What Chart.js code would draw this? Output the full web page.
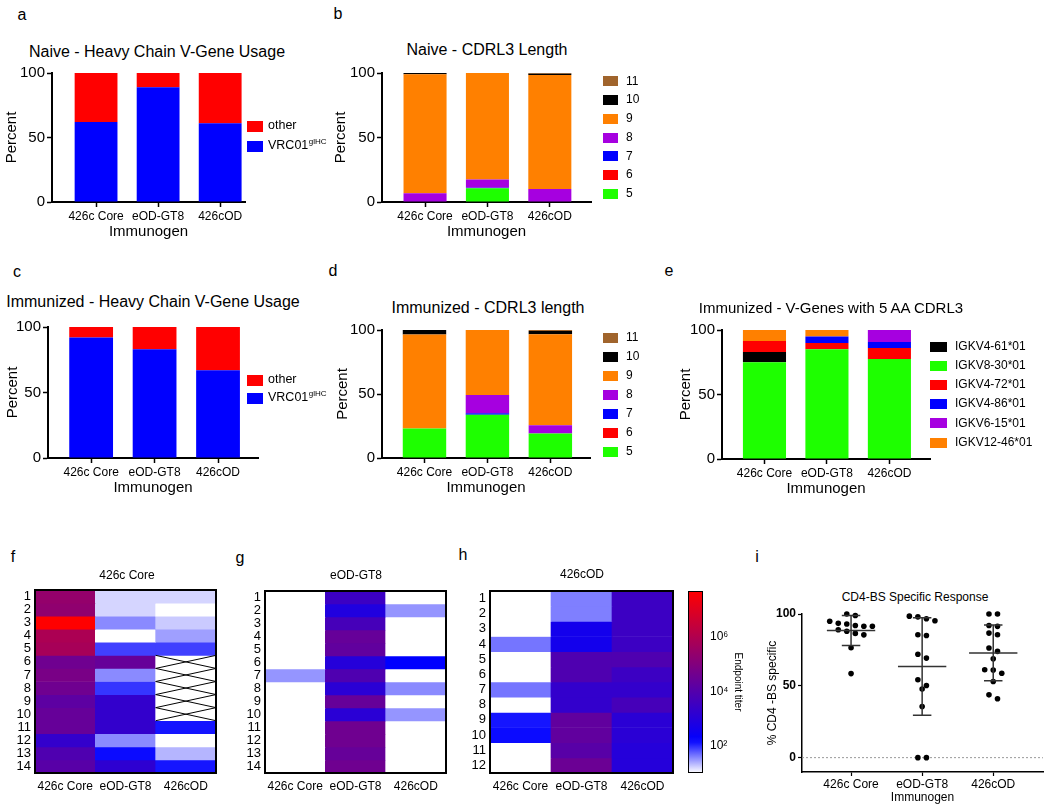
<!DOCTYPE html>
<html>
<head>
<meta charset="utf-8">
<script src="https://cdn.jsdelivr.net/npm/chart.js@4.4.1/dist/chart.umd.min.js"></script>
<style>
  body { margin: 0; background: #fff; font-family: "Liberation Sans", Arial, sans-serif; }
  #fig { position: relative; width: 1050px; height: 808px; overflow: hidden; background: #fff; }
  .lbl { position: absolute; transform: translate(-50%, -50%); white-space: nowrap; line-height: 1; color: #000; }
</style>
</head>
<body>
<div id="fig"></div>
<script>
// Immunogens (x categories everywhere)
const immunogens = ['426c Core', 'eOD-GT8', '426cOD'];
const percentTicks = [0, 50, 100];

// a - Naive heavy chain V-gene usage (%)
const naiveVrc01 = [62, 89, 61];
const naiveOther = [38, 11, 39];

// c - Immunized heavy chain V-gene usage (%)
const immVrc01 = [92, 83, 67];
const immOther = [8, 17, 33];

// b - Naive CDRL3 length (%), one array per length
const cdrl3Lengths = ['5', '6', '7', '8', '9', '10', '11'];
const naiveLen5 = [0, 10.6, 0];
const naiveLen6 = [0, 0, 0];
const naiveLen7 = [0, 0.5, 0];
const naiveLen8 = [6.7, 6.4, 10];
const naiveLen9 = [92.3, 82.5, 88.5];
const naiveLen10 = [1, 0, 1];
const naiveLen11 = [0, 0, 0.5];

// d - Immunized CDRL3 length (%)
const immLen5 = [23, 33.7, 19.2];
const immLen6 = [0, 0, 0];
const immLen7 = [0, 1.3, 0];
const immLen8 = [0, 14.2, 6.3];
const immLen9 = [73.5, 50.8, 71.2];
const immLen10 = [3.5, 0, 2.5];
const immLen11 = [0, 0, 0.8];

// e - V-genes with 5 AA CDRL3 (%), stacked bottom to top
const igkv8_30 = [75, 85, 77.5];
const igkv4_61 = [8, 0, 0];
const igkv4_72 = [8.5, 5, 8.5];
const igkv4_86 = [0, 5, 4.7];
const igkv6_15 = [0, 0, 9.3];
const igkv12_46 = [8.5, 5, 0];

// f/g/h - log10 endpoint titers per column (antigen); 1 = below detection, null = not tested
const coreGroupVsCore = [5.4, 5.3, 7.7, 5.9, 5.8, 4.6, 4.8, 4.6, 4.2, 4.4, 4.4, 3.3, 3.9, 4.1];
const coreGroupVsGt8 = [1.2, 1.2, 1.55, 1.0, 1.9, 4.4, 1.55, 1.95, 3.3, 3.3, 3.3, 1.55, 2.15, 3.2];
const coreGroupVsOd = [1.2, 1.0, 1.25, 1.45, 1.9, null, null, null, null, null, 2.1, 1.0, 1.35, 2.1];
const gt8GroupVsCore = [1, 1, 1, 1, 1, 1, 1.5, 1, 1, 1, 1, 1, 1, 1];
const gt8GroupVsGt8 = [3.5, 2.9, 3.7, 4.4, 4.3, 3.0, 3.9, 3.1, 4.4, 3.1, 4.6, 4.6, 4.4, 4.6];
const gt8GroupVsOd = [1, 1.5, 1, 1, 1, 2.2, 1, 1.55, 1, 1.5, 1, 1, 1, 1];
const odGroupVsCore = [1, 1, 1, 1.65, 1, 1, 1.65, 1, 2.1, 2.15, 1, 1];
const odGroupVsGt8 = [1.6, 1.6, 2.6, 2.6, 3.9, 3.9, 3.3, 3.3, 4.3, 4.3, 4.1, 4.5];
const odGroupVsOd = [3.5, 3.5, 3.5, 3.5, 3.9, 3.5, 3.3, 3.7, 3.1, 3.1, 3.0, 3.0];
const titerTickExp = [2, 4, 6];

// i - % CD4-BS specific
const spec426cCore = [100, 99, 91.5, 93, 92, 95, 91.5, 89, 88, 85.5, 86.5, 76.5, 58.5, 93.5];
const specEodGt8 = [98.5, 98, 96.7, 95.3, 85.6, 85, 72, 69.3, 54.2, 50.2, 47.7, 35.6, 0, 0];
const spec426cOD = [100, 100, 91.4, 92, 85.6, 86.7, 76.3, 74, 68.8, 61, 61.2, 58.8, 53, 41, 43.7];

const FONT = '"Liberation Sans", Arial, sans-serif';
Chart.defaults.font.family = FONT;
Chart.defaults.color = '#000';

const COL = {
  red: '#ff0000', blue: '#0000ff', green: '#1eff00', purple: '#a600e0',
  orange: '#ff8000', black: '#000000', brown: '#a0642c'
};

const fig = document.getElementById('fig');

function makeCanvas(left, top, w, h) {
  const c = document.createElement('canvas');
  c.width = w;
  c.height = h;
  c.style.cssText = `position:absolute;left:${left}px;top:${top}px;width:${w}px;height:${h}px`;
  fig.appendChild(c);
  return c;
}

function addText(text, x, y, size) {
  const d = document.createElement('div');
  d.className = 'lbl';
  d.style.left = x + 'px';
  d.style.top = y + 'px';
  d.style.fontSize = size + 'px';
  d.textContent = text;
  fig.appendChild(d);
}

// legend drawn beside the plot area, items taken from the datasets
function sideLegend(cfg) {
  return {
    id: 'sideLegend',
    afterDraw(chart) {
      const {ctx, chartArea} = chart;
      const ds = chart.data.datasets;
      const n = cfg.order.length;
      const mid = (chartArea.top + chartArea.bottom) / 2 + cfg.dy;
      const x = chartArea.right + cfg.dx;
      ctx.save();
      ctx.textBaseline = 'middle';
      ctx.textAlign = 'left';
      cfg.order.forEach((di, k) => {
        const d = ds[di];
        const y = mid + (k - (n - 1) / 2) * cfg.gap;
        ctx.fillStyle = d.backgroundColor;
        ctx.fillRect(x, Math.round(y - cfg.boxH / 2), cfg.boxW, cfg.boxH);
        ctx.fillStyle = '#000';
        ctx.font = `${cfg.size}px ${FONT}`;
        const tx = x + cfg.boxW + cfg.textGap;
        ctx.fillText(d.label, tx, y);
        if (d.sup) {
          const w = ctx.measureText(d.label).width;
          ctx.font = `${Math.round(cfg.size * 0.66)}px ${FONT}`;
          ctx.fillText(d.sup, tx + w + 0.5, y - cfg.size * 0.3);
        }
      });
      ctx.restore();
    }
  };
}

function stackedPanel(p) {
  const cv = makeCanvas(p.left, p.top, p.width, p.height);
  return new Chart(cv, {
    type: 'bar',
    data: {
      datasets: p.series.map(s => ({
        label: s.label,
        sup: s.sup,
        data: s.values.map((v, i) => ({x: i, y: v})),
        backgroundColor: s.color,
        borderWidth: 0,
        barPercentage: 0.69,
        categoryPercentage: 1
      }))
    },
    options: {
      responsive: false,
      animation: false,
      layout: {padding: {top: 12, right: p.padRight, left: 0, bottom: 0}},
      plugins: {legend: {display: false}, tooltip: {enabled: false}},
      scales: {
        x: {
          type: 'linear', stacked: true, offset: false, min: p.xMin, max: p.xMax,
          afterBuildTicks: sc => { sc.ticks = immunogens.map((_, i) => ({value: i})); },
          afterFit: sc => { sc.height = 40; },
          ticks: {callback: v => immunogens[v], font: {size: 12}, padding: 2, maxRotation: 0, autoSkip: false},
          grid: {drawOnChartArea: false, offset: false, tickLength: 5, tickColor: '#000', tickWidth: 1.5},
          border: {color: '#000', width: 2},
          title: {display: true, text: 'Immunogen', font: {size: 15}, padding: {top: 0, bottom: 1}}
        },
        y: {
          stacked: true, min: 0, max: 100,
          afterBuildTicks: sc => { sc.ticks = percentTicks.map(v => ({value: v})); },
          afterFit: sc => { sc.width = p.yWidth; },
          ticks: {font: {size: 15}, padding: 2},
          grid: {drawOnChartArea: false, tickLength: 5, tickColor: '#000', tickWidth: 1.5},
          border: {color: '#000', width: 2},
          title: {display: true, text: 'Percent', font: {size: 15}, padding: {top: p.yTitlePad, bottom: 0}}
        }
      }
    },
    plugins: [sideLegend(p.legend)]
  });
}

function titerColor(t) {
  if (t === null || t <= 1) return 'rgb(255,255,255)';
  if (t < 2.2) {
    const c = Math.round(255 * (1 - (t - 1) / 1.2));
    return `rgb(${c},${c},255)`;
  }
  const f = Math.min(1, (t - 2.2) / 5.5);
  return `rgb(${Math.round(255 * f)},0,${Math.round(255 * (1 - f))})`;
}

// frame around the heatmap and crosses on untested cells
function heatFrame(cols) {
  return {
    id: 'heatFrame',
    afterDatasetsDraw(chart) {
      const {ctx, chartArea: a, scales: {x, y}} = chart;
      const half = (a.right - a.left) / cols.length / 2;
      ctx.save();
      ctx.strokeStyle = '#000';
      ctx.lineWidth = 1;
      cols.forEach((col, c) => {
        col.forEach((v, r) => {
          if (v !== null) return;
          const cx = x.getPixelForValue(c);
          const y0 = y.getPixelForValue(r), y1 = y.getPixelForValue(r + 1);
          ctx.beginPath();
          ctx.moveTo(cx - half, y0); ctx.lineTo(cx + half, y1);
          ctx.moveTo(cx - half, y1); ctx.lineTo(cx + half, y0);
          ctx.stroke();
        });
      });
      ctx.lineWidth = 2;
      ctx.strokeRect(a.left, a.top, a.right - a.left, a.bottom - a.top);
      ctx.restore();
    }
  };
}

function heatPanel(p) {
  const cv = makeCanvas(p.left, p.top, p.width, p.height);
  const rowLabels = p.cols[0].map((_, r) => String(r + 1));
  return new Chart(cv, {
    type: 'bar',
    data: {
      labels: immunogens,
      datasets: rowLabels.map((_, r) => ({
        data: p.cols.map(() => 1),
        backgroundColor: p.cols.map(col => titerColor(col[r])),
        borderWidth: 0,
        barPercentage: 1,
        categoryPercentage: 1
      }))
    },
    options: {
      responsive: false,
      animation: false,
      layout: {padding: {top: 12, right: 4, left: 0, bottom: 0}},
      plugins: {legend: {display: false}, tooltip: {enabled: false}},
      scales: {
        x: {
          stacked: true,
          afterFit: sc => { sc.height = 22; },
          ticks: {font: {size: 12}, padding: 6, maxRotation: 0, autoSkip: false},
          grid: {display: false, drawTicks: false},
          border: {display: false}
        },
        y: {
          stacked: true, reverse: true, min: 0, max: rowLabels.length,
          afterBuildTicks: sc => { sc.ticks = rowLabels.map((_, r) => ({value: r + 0.5})); },
          afterFit: sc => { sc.width = p.yWidth; },
          ticks: {callback: (v, i) => rowLabels[i], font: {size: 13}, padding: 4, autoSkip: false},
          grid: {display: false, drawTicks: false},
          border: {display: false}
        }
      }
    },
    plugins: [heatFrame(p.cols)]
  });
}

// ---- a ----
stackedPanel({
  left: 0, top: 61, width: 330, height: 181, padRight: 85, yWidth: 52, yTitlePad: 3,
  xMin: -0.71, xMax: 2.4,
  series: [
    {label: 'VRC01', sup: 'glHC', values: naiveVrc01, color: COL.blue},
    {label: 'other', values: naiveOther, color: COL.red}
  ],
  legend: {order: [1, 0], dx: 2, dy: -1.5, gap: 20, boxW: 16, boxH: 11, textGap: 5, size: 12.5}
});

// ---- b ----
const lengthColors = [COL.green, COL.red, COL.blue, COL.purple, COL.orange, COL.black, COL.brown];
const naiveLens = [naiveLen5, naiveLen6, naiveLen7, naiveLen8, naiveLen9, naiveLen10, naiveLen11];
const immLens = [immLen5, immLen6, immLen7, immLen8, immLen9, immLen10, immLen11];
stackedPanel({
  left: 330, top: 61, width: 320, height: 181, padRight: 59, yWidth: 52, yTitlePad: 2,
  xMin: -0.69, xMax: 2.66,
  series: cdrl3Lengths.map((l, i) => ({label: l, values: naiveLens[i], color: lengthColors[i]})),
  legend: {order: [6, 5, 4, 3, 2, 1, 0], dx: 12, dy: 0, gap: 18.7, boxW: 15, boxH: 10, textGap: 8, size: 12}
});

// ---- c ----
stackedPanel({
  left: 0, top: 315, width: 335, height: 183, padRight: 77, yWidth: 48, yTitlePad: 4,
  xMin: -0.68, xMax: 2.63,
  series: [
    {label: 'VRC01', sup: 'glHC', values: immVrc01, color: COL.blue},
    {label: 'other', values: immOther, color: COL.red}
  ],
  legend: {order: [1, 0], dx: -11, dy: -3.5, gap: 18, boxW: 16, boxH: 11, textGap: 5, size: 12.5}
});

// ---- d ----
stackedPanel({
  left: 330, top: 318, width: 320, height: 180, padRight: 60, yWidth: 52, yTitlePad: 4,
  xMin: -0.675, xMax: 2.63,
  series: cdrl3Lengths.map((l, i) => ({label: l, values: immLens[i], color: lengthColors[i]})),
  legend: {order: [6, 5, 4, 3, 2, 1, 0], dx: 13, dy: 1, gap: 19, boxW: 15, boxH: 10, textGap: 8, size: 12}
});

// ---- e ----
stackedPanel({
  left: 675, top: 318, width: 370, height: 181, padRight: 115, yWidth: 47, yTitlePad: 2,
  xMin: -0.68, xMax: 2.65,
  series: [
    {label: 'IGKV8-30*01', values: igkv8_30, color: COL.green},
    {label: 'IGKV4-61*01', values: igkv4_61, color: COL.black},
    {label: 'IGKV4-72*01', values: igkv4_72, color: COL.red},
    {label: 'IGKV4-86*01', values: igkv4_86, color: COL.blue},
    {label: 'IGKV6-15*01', values: igkv6_15, color: COL.purple},
    {label: 'IGKV12-46*01', values: igkv12_46, color: COL.orange}
  ],
  legend: {order: [1, 0, 2, 3, 4, 5], dx: 0, dy: 0, gap: 19.2, boxW: 17, boxH: 10, textGap: 8, size: 12}
});

// ---- f, g, h heatmaps ----
heatPanel({left: 5, top: 578, width: 215, height: 217, yWidth: 30,
  cols: [coreGroupVsCore, coreGroupVsGt8, coreGroupVsOd]});
heatPanel({left: 230, top: 579, width: 220, height: 216, yWidth: 35,
  cols: [gt8GroupVsCore, gt8GroupVsGt8, gt8GroupVsOd]});
heatPanel({left: 455, top: 579, width: 222, height: 216, yWidth: 35,
  cols: [odGroupVsCore, odGroupVsGt8, odGroupVsOd]});

// ---- colour bar ----
const supDigits = {2: '\u00b2', 4: '\u2074', 6: '\u2076'};
const titerMin = 1, titerMax = 7.7;
new Chart(makeCanvas(688, 575, 60, 214), {
  type: 'bar',
  data: {
    labels: [''],
    datasets: [{
      data: [[10 ** titerMin, 10 ** titerMax]],
      backgroundColor: c => {
        const chart = c.chart;
        if (!chart.chartArea) return '#fff';
        const ys = chart.scales.y;
        const g = chart.ctx.createLinearGradient(0, ys.getPixelForValue(10 ** titerMin), 0, ys.getPixelForValue(10 ** titerMax));
        for (let k = 0; k <= 30; k++) {
          g.addColorStop(k / 30, titerColor(titerMin + (titerMax - titerMin) * k / 30));
        }
        return g;
      },
      borderWidth: 0, barPercentage: 1, categoryPercentage: 1
    }]
  },
  options: {
    responsive: false,
    animation: false,
    layout: {padding: {top: 16, bottom: 16, left: 0, right: 0}},
    plugins: {legend: {display: false}, tooltip: {enabled: false}},
    scales: {
      x: {display: false},
      y: {
        type: 'logarithmic', position: 'right', min: 10 ** titerMin, max: 10 ** titerMax,
        afterBuildTicks: sc => { sc.ticks = titerTickExp.map(e => ({value: 10 ** e})); },
        afterFit: sc => { sc.width = 45; },
        ticks: {callback: (v, i) => '10' + supDigits[titerTickExp[i]], font: {size: 12}, padding: 7},
        grid: {display: false, drawTicks: false},
        border: {display: false},
        title: {display: true, text: 'Endpoint titer', font: {size: 10}, padding: {top: 4, bottom: 0}}
      }
    }
  },
  plugins: [{
    id: 'barFrame',
    afterDatasetsDraw(chart) {
      const {ctx, chartArea: a} = chart;
      ctx.save();
      ctx.strokeStyle = '#000';
      ctx.lineWidth = 1;
      ctx.strokeRect(a.left + 0.5, a.top + 0.5, a.right - a.left - 1, a.bottom - a.top - 1);
      ctx.restore();
    }
  }]
});

// ---- i scatter ----
function swarm(values, center) {
  const idx = values.map((_, i) => i).sort((a, b) => values[b] - values[a]);
  const pts = [];
  let k = 0;
  while (k < idx.length) {
    let j = k + 1;
    while (j < idx.length && values[idx[k]] - values[idx[j]] < 4.5) j++;
    const n = j - k;
    for (let m = k; m < j; m++) {
      pts.push({x: center + (m - k - (n - 1) / 2) * 0.12, y: values[idx[m]]});
    }
    k = j;
  }
  return pts;
}

const specGroups = [spec426cCore, specEodGt8, spec426cOD];
const meanSd = {
  id: 'meanSd',
  beforeDatasetsDraw(chart) {
    const {ctx, chartArea: a, scales: {y}} = chart;
    ctx.save();
    ctx.strokeStyle = '#999';
    ctx.lineWidth = 1;
    ctx.setLineDash([2, 2]);
    ctx.beginPath();
    ctx.moveTo(a.left, y.getPixelForValue(0));
    ctx.lineTo(a.right, y.getPixelForValue(0));
    ctx.stroke();
    ctx.restore();
  },
  afterDatasetsDraw(chart) {
    const {ctx, scales: {x, y}} = chart;
    ctx.save();
    ctx.strokeStyle = '#333';
    ctx.lineWidth = 1.5;
    specGroups.forEach((vals, g) => {
      const n = vals.length;
      const mean = vals.reduce((s, v) => s + v, 0) / n;
      const sd = Math.sqrt(vals.reduce((s, v) => s + (v - mean) ** 2, 0) / (n - 1));
      const cx = x.getPixelForValue(g);
      const hw = x.getPixelForValue(g + 0.34) - cx;
      const cw = x.getPixelForValue(g + 0.13) - cx;
      const ym = y.getPixelForValue(mean), yl = y.getPixelForValue(mean - sd), yh = y.getPixelForValue(Math.min(mean + sd, 100));
      ctx.beginPath();
      ctx.moveTo(cx - hw, ym); ctx.lineTo(cx + hw, ym);
      ctx.moveTo(cx, yl); ctx.lineTo(cx, yh);
      ctx.moveTo(cx - cw, yl); ctx.lineTo(cx + cw, yl);
      ctx.moveTo(cx - cw, yh); ctx.lineTo(cx + cw, yh);
      ctx.stroke();
    });
    ctx.restore();
  }
};

new Chart(makeCanvas(760, 604, 287, 202), {
  type: 'scatter',
  data: {
    datasets: specGroups.map((vals, g) => ({
      data: swarm(vals, g),
      pointRadius: 2.8,
      pointBackgroundColor: '#000',
      pointBorderWidth: 0,
      clip: false
    }))
  },
  options: {
    responsive: false,
    animation: false,
    layout: {padding: {top: 10, right: 4, left: 0, bottom: 0}},
    plugins: {legend: {display: false}, tooltip: {enabled: false}},
    scales: {
      x: {
        type: 'linear', min: -0.69, max: 2.7,
        afterBuildTicks: sc => { sc.ticks = immunogens.map((_, i) => ({value: i})); },
        afterFit: sc => { sc.height = 34; },
        ticks: {callback: v => immunogens[v], font: {size: 12}, padding: 1, maxRotation: 0, autoSkip: false},
        grid: {drawOnChartArea: false, tickLength: 4, tickColor: '#000', tickWidth: 1.2},
        border: {color: '#000', width: 1.5},
        title: {display: true, text: 'Immunogen', font: {size: 12}, padding: {top: 0, bottom: 1}}
      },
      y: {
        min: -10, max: 100,
        afterBuildTicks: sc => { sc.ticks = percentTicks.map(v => ({value: v})); },
        afterFit: sc => { sc.width = 42; },
        ticks: {font: {size: 12, weight: 'bold'}, padding: 2},
        grid: {drawOnChartArea: false, tickLength: 4, tickColor: '#000', tickWidth: 1.2},
        border: {color: '#000', width: 1.5},
        title: {display: true, text: '% CD4 -BS specific', font: {size: 12}, padding: {top: 5, bottom: 0}}
      }
    }
  },
  plugins: [meanSd]
});

// ---- panel letters and titles ----
addText('a', 22, 15, 16);
addText('b', 338, 14, 16);
addText('c', 17, 272, 16);
addText('d', 333, 271, 16);
addText('e', 669, 271, 16);
addText('f', 13, 557, 16);
addText('g', 240, 558, 16);
addText('h', 463, 555, 16);
addText('i', 757, 557, 16);
addText('Naive - Heavy Chain V-Gene Usage', 157, 52, 16);
addText('Naive - CDRL3 Length', 487, 50, 16);
addText('Immunized - Heavy Chain V-Gene Usage', 153, 302, 16);
addText('Immunized - CDRL3 length', 488, 308, 16);
addText('Immunized - V-Genes with 5 AA CDRL3', 831, 307, 15);
addText('426c Core', 127, 575, 12);
addText('eOD-GT8', 356, 575, 12);
addText('426cOD', 582, 574, 12);
addText('CD4-BS Specific Response', 915, 597, 12);
</script>
</body>
</html>
